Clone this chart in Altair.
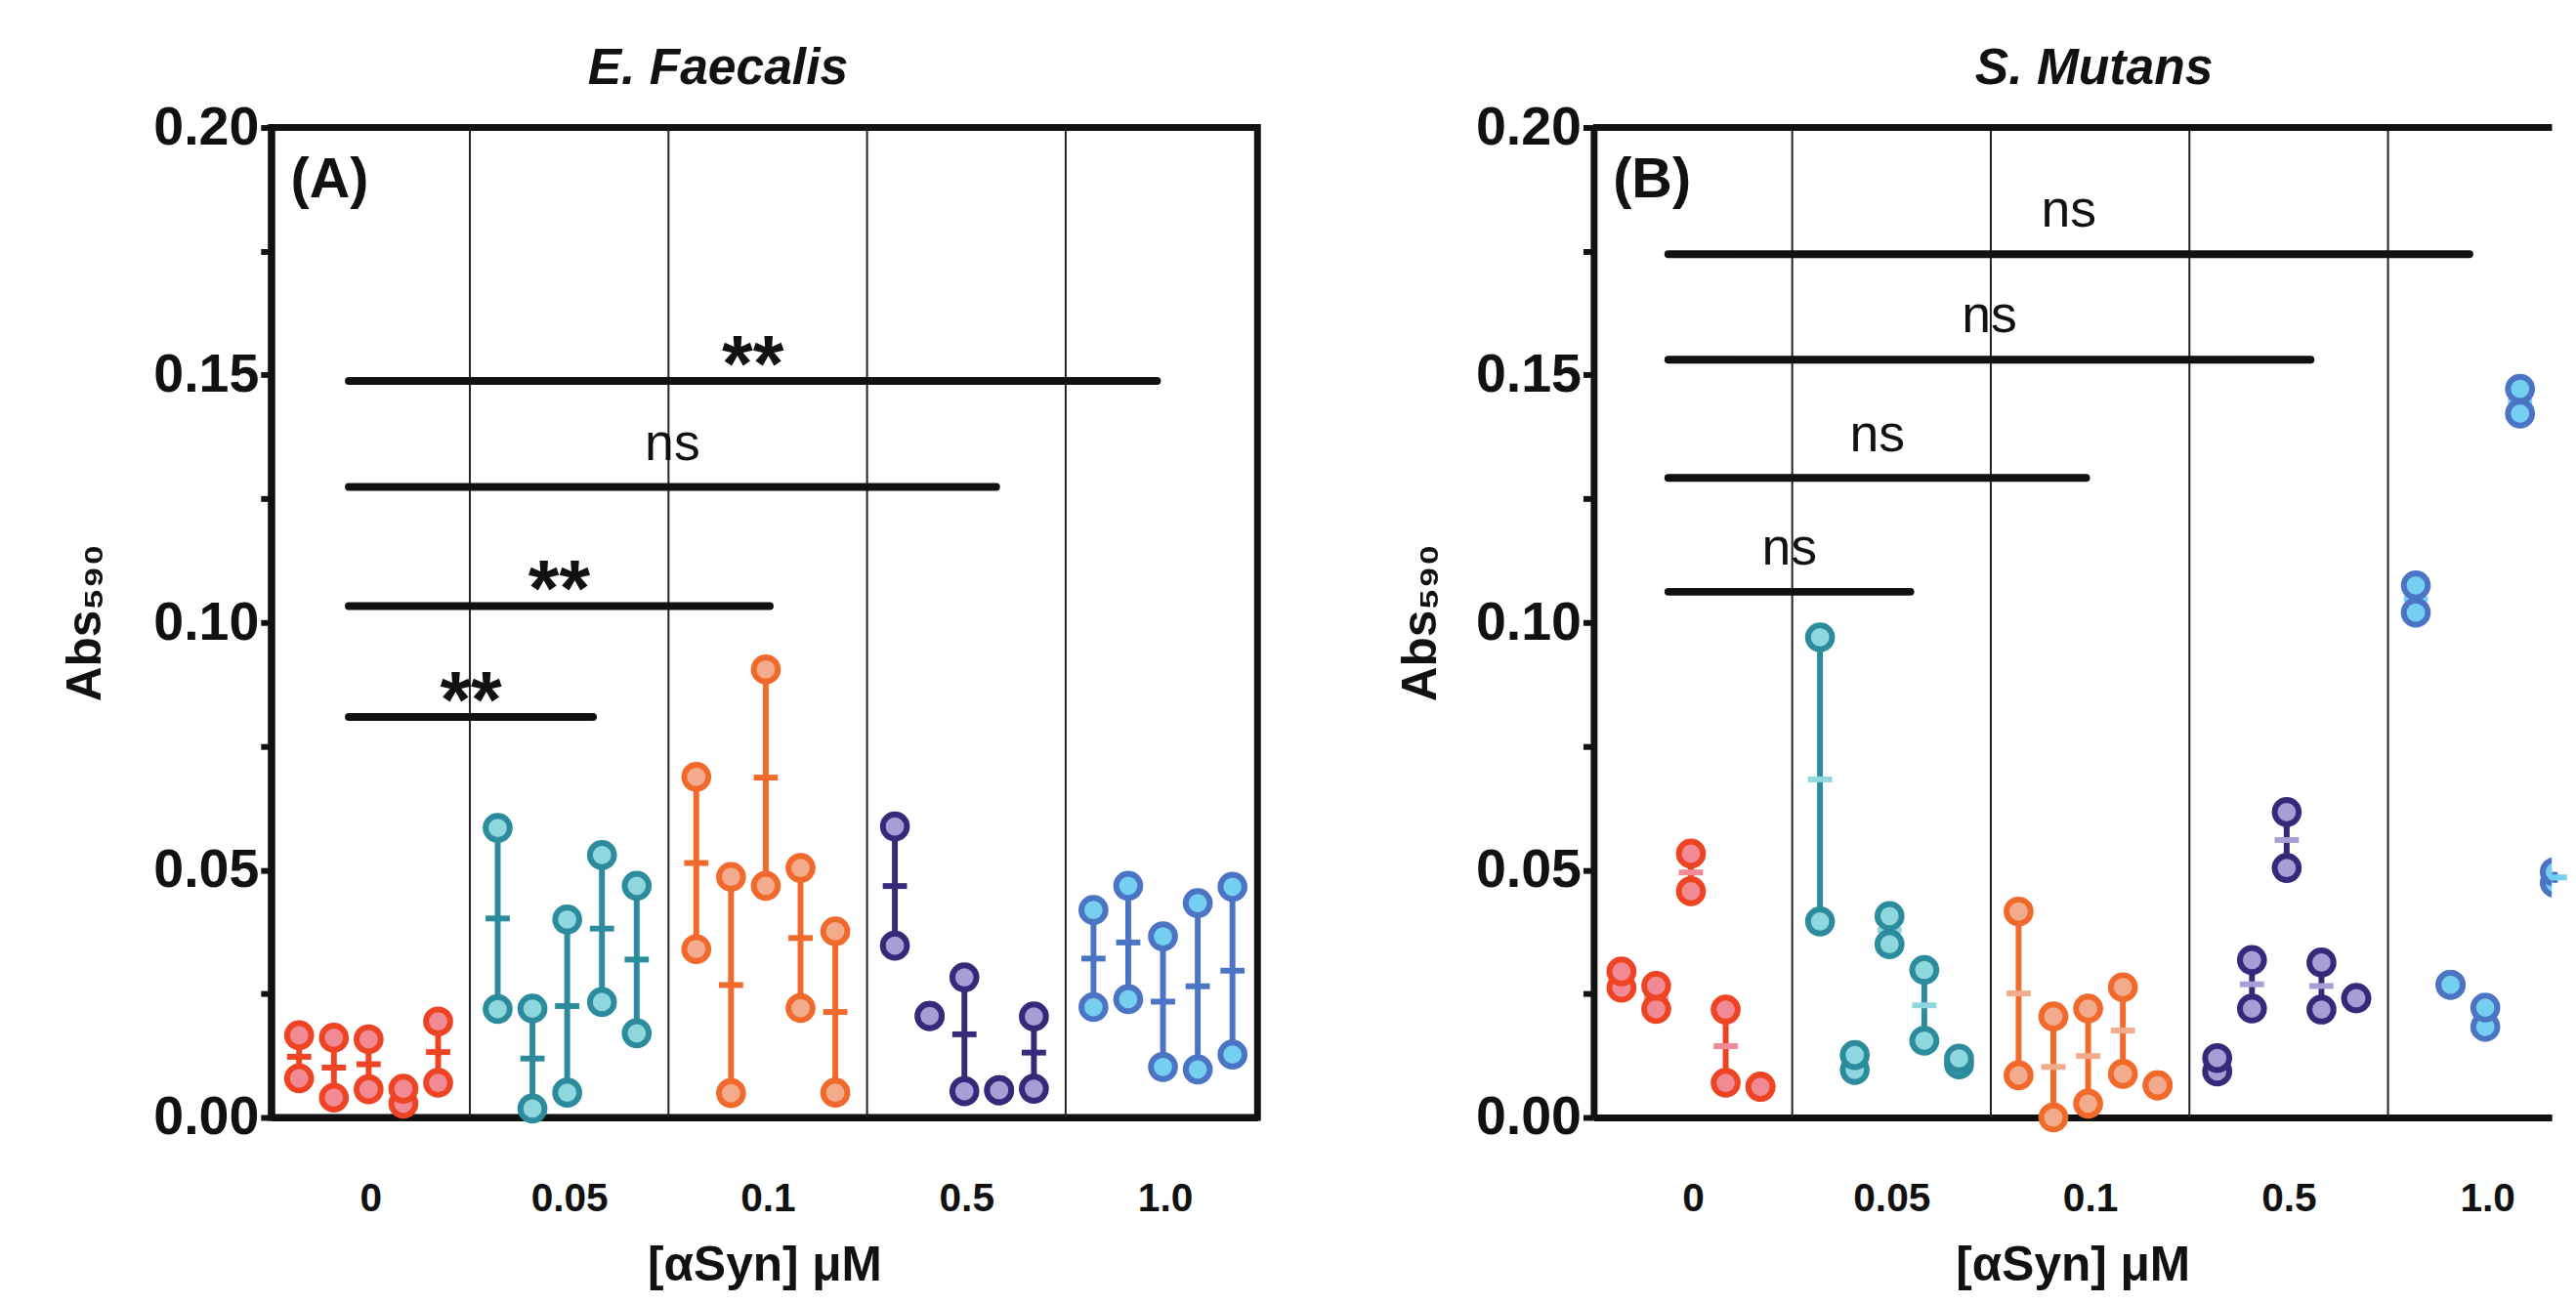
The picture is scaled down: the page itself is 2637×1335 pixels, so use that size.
import altair as alt
import pandas as pd

FONT = "Liberation Sans"
INK = "#111111"

GROUPS = ["0", "0.05", "0.1", "0.5", "1.0"]
STROKES = ["#EE4423", "#2C8C9E", "#F26A2B", "#352A7A", "#4C74C4"]
FILLS = ["#F28A96", "#8FD7DF", "#F3AB8D", "#A59FD6", "#74CFF1"]
OFFSETS = [0.14, 0.315, 0.49, 0.665, 0.84]

# Panel A (E. Faecalis): upper / lower replicate per sub-sample (5 per group)
A_HI = [0.0166, 0.0161, 0.0158, 0.0058, 0.0194,
        0.0585, 0.0220, 0.0400, 0.0530, 0.0468,
        0.0688, 0.0486, 0.0905, 0.0504, 0.0376,
        0.0588, 0.0205, 0.0283, 0.0055, 0.0204,
        0.0419, 0.0468, 0.0366, 0.0433, 0.0466]
A_LO = [0.0079, 0.0040, 0.0057, 0.0028, 0.0070,
        0.0219, 0.0018, 0.0050, 0.0233, 0.0170,
        0.0340, 0.0049, 0.0468, 0.0221, 0.0050,
        0.0347, 0.0205, 0.0053, 0.0055, 0.0058,
        0.0223, 0.0239, 0.0102, 0.0097, 0.0127]

# Panel B (S. Mutans)
B_HI = [0.0295, 0.0266, 0.0533, 0.0218, 0.0062,
        0.0970, 0.0126, 0.0407, 0.0298, 0.0119,
        0.0416, 0.0204, 0.0220, 0.0263, 0.0065,
        0.0120, 0.0318, 0.0617, 0.0313, 0.0241,
        0.1075, 0.0268, 0.0222, 0.1472, 0.0496]
B_LO = [0.0262, 0.0219, 0.0457, 0.0070, 0.0062,
        0.0396, 0.0096, 0.0350, 0.0155, 0.0107,
        0.0085, 0.0000, 0.0028, 0.0088, 0.0065,
        0.0093, 0.0220, 0.0504, 0.0218, 0.0241,
        0.1020, 0.0268, 0.0183, 0.1422, 0.0474]

# significance brackets (in group units on x, absorbance on y)
A_SIG_START = [0.39, 0.39, 0.39, 0.39]
A_SIG_END = [1.62, 2.51, 3.65, 4.46]
A_SIG_Y = [0.0809, 0.1033, 0.1274, 0.1488]
A_SIG_TXT = ["**", "**", "ns", "**"]

B_SIG_START = [0.376, 0.376, 0.376, 0.376]
B_SIG_END = [1.595, 2.48, 3.61, 4.41]
B_SIG_Y = [0.1062, 0.1292, 0.1531, 0.1744]
B_SIG_TXT = ["ns", "ns", "ns", "ns"]

Y_TICKS = [i * 0.025 for i in range(9)]
X_TICKS = [g + 0.5 for g in range(len(GROUPS))]
DIVIDERS = list(range(1, len(GROUPS)))

label_arr = "[" + ",".join("'%s'" % g for g in GROUPS) + "]"


def x_enc(field, domain_max, **kw):
    return alt.X(field, type="quantitative",
                 scale=alt.Scale(domain=[0, domain_max], nice=False, zero=False),
                 axis=alt.Axis(values=X_TICKS, labelExpr=label_arr + "[floor(datum.value)]",
                               labelFont=FONT, labelFontSize=41, labelFontWeight="bold",
                               labelColor=INK, labelPadding=64, ticks=False, grid=False,
                               domainWidth=7, domainColor=INK,
                               title="[αSyn] μM", titleFont=FONT, titleFontSize=50,
                               titleFontWeight="bold", titleColor=INK, titlePadding=24),
                 **kw)


def y_enc(field, title_pad, **kw):
    return alt.Y(field, type="quantitative",
                 scale=alt.Scale(domain=[0, 0.2], nice=False),
                 axis=alt.Axis(values=Y_TICKS,
                               labelExpr="round(datum.value*1000) % 50 == 0 ? format(datum.value, '.2f') : ''",
                               labelFont=FONT, labelFontSize=56, labelFontWeight="bold",
                               labelColor=INK, labelPadding=2, tickSize=11, tickWidth=6,
                               tickColor=INK, grid=False, domainWidth=7, domainColor=INK,
                               title="Abs₅₉₀", titleFont=FONT, titleFontSize=50,
                               titleFontWeight="bold", titleColor=INK, titlePadding=title_pad),
                 **kw)


def panel(hi, lo, sig_s, sig_e, sig_y, sig_t, tag, title, title_dx, width, domain_max,
          title_pad, mean_light, border):
    bars, pts = [], []
    for g in range(len(GROUPS)):
        for k in range(len(OFFSETS)):
            i = g * len(OFFSETS) + k
            x = g + OFFSETS[k]
            bars.append(dict(x=x, hi=hi[i], lo=lo[i], mean=(hi[i] + lo[i]) / 2,
                             stroke=STROKES[g], fill=FILLS[g],
                             tick=FILLS[g] if mean_light else STROKES[g], g=g))
            pts.append(dict(x=x, v=lo[i], stroke=STROKES[g], fill=FILLS[g], g=g))
            pts.append(dict(x=x, v=hi[i], stroke=STROKES[g], fill=FILLS[g], g=g))
    bars = pd.DataFrame(bars)
    pts = pd.DataFrame(pts)
    sig = pd.DataFrame(dict(s=sig_s, e=sig_e, y=sig_y, t=sig_t))
    sig["m"] = (sig["s"] + sig["e"]) / 2
    div = pd.DataFrame(dict(d=DIVIDERS))

    X = lambda f, **kw: x_enc(f, domain_max, **kw)
    Y = lambda f, **kw: y_enc(f, title_pad, **kw)

    layers = []
    layers.append(alt.Chart(div).mark_rule(color="#222222", strokeWidth=2).encode(x=X("d")))
    if not border:
        layers.append(alt.Chart(div).mark_rule(color=INK, strokeWidth=7).encode(
            x=alt.value(0), x2=alt.value(width), y=alt.value(0)))
    layers.append(alt.Chart(sig).mark_rule(color=INK, strokeWidth=8, strokeCap="round").encode(
        x=X("s"), x2="e", y=Y("y")))
    layers.append(alt.Chart(sig[sig.t == "**"]).mark_text(
        font=FONT, fontSize=82, fontWeight="bold", color=INK, baseline="alphabetic", dy=10).encode(
        x=X("m"), y=Y("y"), text="t"))
    layers.append(alt.Chart(sig[sig.t == "ns"]).mark_text(
        font=FONT, fontSize=54, color=INK, baseline="alphabetic", dy=-28).encode(
        x=X("m"), y=Y("y"), text="t"))
    rng = bars[bars.hi - bars.lo > 0]
    layers.append(alt.Chart(rng).mark_rule(strokeWidth=6).encode(
        x=X("x"), y=Y("lo"), y2="hi", color=alt.Color("stroke:N", scale=None)))
    layers.append(alt.Chart(rng).mark_tick(orient="horizontal", size=25, thickness=6, opacity=1).encode(
        x=X("x"), y=Y("mean"), color=alt.Color("tick:N", scale=None)))
    for clip_flag, sub in ((False, pts[pts.g < 4]), (not border, pts[pts.g == 4])):
        layers.append(alt.Chart(sub).mark_circle(size=620, strokeWidth=6, opacity=1, clip=clip_flag).encode(
            x=X("x"), y=Y("v"),
            fill=alt.Fill("fill:N", scale=None), stroke=alt.Stroke("stroke:N", scale=None)))
    layers.append(alt.Chart(pd.DataFrame(dict(t=[tag]))).mark_text(
        font=FONT, fontSize=58, fontWeight="bold", color=INK, align="left", baseline="middle").encode(
        x=alt.value(20), y=alt.value(55), text="t"))

    view = alt.ViewBackground(stroke=INK, strokeWidth=7) if border else alt.ViewBackground(stroke="transparent")
    return alt.layer(*layers).properties(
        width=width, height=1022, view=view,
        title=alt.TitleParams(title, font=FONT, fontSize=52, fontWeight="bold", fontStyle="italic",
                              color=INK, dx=title_dx, offset=6))


chart_a = panel(A_HI, A_LO, A_SIG_START, A_SIG_END, A_SIG_Y, A_SIG_TXT, "(A)", "E. Faecalis",
                -48, 1018, 1018 / 205, 45, False, True)
chart_b = panel(B_HI, B_LO, B_SIG_START, B_SIG_END, B_SIG_Y, B_SIG_TXT, "(B)", "S. Mutans",
                22, 989, 989 / 205, 31, True, False)

chart = alt.hconcat(chart_a, chart_b, spacing=139).properties(
    padding={"left": 51, "top": 27, "right": 0, "bottom": 0},
    background="white")

chart.save("out.html", embed_options={"renderer": "svg", "actions": False})
